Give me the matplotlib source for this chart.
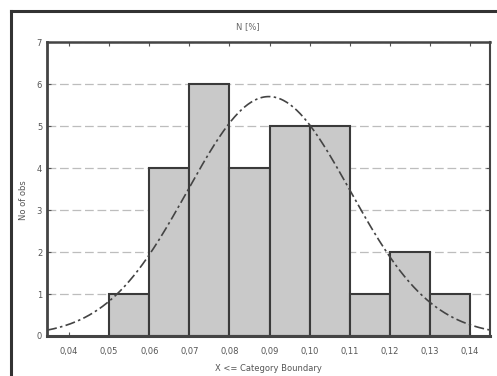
import numpy as np
import matplotlib
matplotlib.use("Agg")
import matplotlib.pyplot as plt
from matplotlib.lines import Line2D

# Histogram of N [%] with fitted normal curve
bin_edges = [0.05, 0.06, 0.07, 0.08, 0.09, 0.10, 0.11, 0.12, 0.13, 0.14]
counts = [1, 4, 6, 4, 5, 5, 1, 2, 1]
x_ticks = [0.04, 0.05, 0.06, 0.07, 0.08, 0.09, 0.10, 0.11, 0.12, 0.13, 0.14]
x_tick_labels = ["0,04", "0,05", "0,06", "0,07", "0,08", "0,09", "0,10",
                 "0,11", "0,12", "0,13", "0,14"]
y_ticks = [0, 1, 2, 3, 4, 5, 6, 7]

fig = plt.figure(figsize=(4.97, 3.76), dpi=100)
ax = fig.add_axes([0.0946, 0.1064, 0.8914, 0.7816])

edges = np.array(bin_edges)
cnt = np.array(counts)
width = np.diff(edges)
ax.bar(edges[:-1], cnt, width=width, align="edge", color="#c9c9c9",
       edgecolor="#3a3a3a", linewidth=1.5, zorder=2)

# normal curve fitted to the binned data
mids = (edges[:-1] + edges[1:]) / 2
n = cnt.sum()
mu = np.sum(mids * cnt) / n
sd = np.sqrt(np.sum(cnt * (mids - mu) ** 2) / (n - 1))
xs = np.linspace(0.0345, 0.145, 400)
ys = n * width[0] / (sd * np.sqrt(2 * np.pi)) * np.exp(-0.5 * ((xs - mu) / sd) ** 2)
ax.plot(xs, ys, color="#444444", linewidth=1.2, linestyle=(0, (6, 2, 1.5, 2)),
        zorder=3)

ax.set_xlim(0.0345, 0.145)
ax.set_ylim(0, 7)
ax.set_xticks(x_ticks)
ax.set_xticklabels(x_tick_labels)
ax.set_yticks(y_ticks)
ax.yaxis.grid(True, color="#bdbdbd", linestyle=(0, (7, 3)), linewidth=0.9, zorder=0)
ax.set_axisbelow(True)
ax.tick_params(axis="both", labelsize=6, colors="#555555", length=3,
               direction="in", top=True, right=True)
ax.tick_params(axis="x", pad=8)
for lab in ax.get_xticklabels() + ax.get_yticklabels():
    lab.set_color("#555555")
for side, lw in (("left", 2.0), ("bottom", 2.2), ("top", 1.8), ("right", 1.5)):
    ax.spines[side].set_linewidth(lw)
    ax.spines[side].set_color("#444444")

fig.text(248 / 497, 1 - 27 / 376, "N [%]", fontsize=6, color="#666666",
         ha="center", va="center")
fig.text(24 / 497, 1 - 200 / 376, "No of obs", fontsize=6, color="#555555",
         ha="center", va="center", rotation=90)
ax.set_xlabel("X <= Category Boundary", fontsize=6, color="#555555", labelpad=6)

# outer frame lines
fig.add_artist(Line2D([11 / 497, 11 / 497], [0, 1 - 11 / 376],
                      transform=fig.transFigure, color="#333333", linewidth=2.2))
fig.add_artist(Line2D([11 / 497, 1], [1 - 11 / 376, 1 - 11 / 376],
                      transform=fig.transFigure, color="#333333", linewidth=2.2))

fig.savefig("out.png", dpi=100)
